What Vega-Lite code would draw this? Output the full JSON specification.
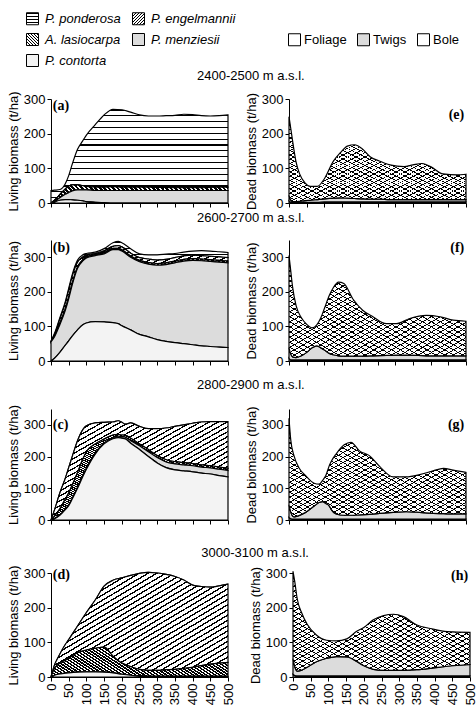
{
  "$schema": "https://vega.github.io/schema/vega-lite/v6.json",
  "padding": {"left": 7, "top": 12, "right": 6, "bottom": 4},
  "background": "white",
  "params": [
    {"name": "stripesH", "expr": "{gradient:'linear',x1:0,y1:0,x2:0,y2:1,stops:[{offset:0,color:'#000'},{offset:0.012,color:'#000'},{offset:0.012,color:'#fff'},{offset:0.0625,color:'#fff'},{offset:0.0625,color:'#000'},{offset:0.0745,color:'#000'},{offset:0.0745,color:'#fff'},{offset:0.125,color:'#fff'},{offset:0.125,color:'#000'},{offset:0.137,color:'#000'},{offset:0.137,color:'#fff'},{offset:0.1875,color:'#fff'},{offset:0.1875,color:'#000'},{offset:0.1995,color:'#000'},{offset:0.1995,color:'#fff'},{offset:0.25,color:'#fff'},{offset:0.25,color:'#000'},{offset:0.262,color:'#000'},{offset:0.262,color:'#fff'},{offset:0.3125,color:'#fff'},{offset:0.3125,color:'#000'},{offset:0.3245,color:'#000'},{offset:0.3245,color:'#fff'},{offset:0.375,color:'#fff'},{offset:0.375,color:'#000'},{offset:0.387,color:'#000'},{offset:0.387,color:'#fff'},{offset:0.4375,color:'#fff'},{offset:0.4375,color:'#000'},{offset:0.4495,color:'#000'},{offset:0.4495,color:'#fff'},{offset:0.5,color:'#fff'},{offset:0.5,color:'#000'},{offset:0.512,color:'#000'},{offset:0.512,color:'#fff'},{offset:0.5625,color:'#fff'},{offset:0.5625,color:'#000'},{offset:0.5745,color:'#000'},{offset:0.5745,color:'#fff'},{offset:0.625,color:'#fff'},{offset:0.625,color:'#000'},{offset:0.637,color:'#000'},{offset:0.637,color:'#fff'},{offset:0.6875,color:'#fff'},{offset:0.6875,color:'#000'},{offset:0.6995,color:'#000'},{offset:0.6995,color:'#fff'},{offset:0.75,color:'#fff'},{offset:0.75,color:'#000'},{offset:0.762,color:'#000'},{offset:0.762,color:'#fff'},{offset:0.8125,color:'#fff'},{offset:0.8125,color:'#000'},{offset:0.8245,color:'#000'},{offset:0.8245,color:'#fff'},{offset:0.875,color:'#fff'},{offset:0.875,color:'#000'},{offset:0.887,color:'#000'},{offset:0.887,color:'#fff'},{offset:0.9375,color:'#fff'},{offset:0.9375,color:'#000'},{offset:0.9495,color:'#000'},{offset:0.9495,color:'#fff'},{offset:1,color:'#fff'}]}"},
    {"name": "hatchUp", "expr": "{gradient:'linear',x1:0,y1:0,x2:1,y2:1,stops:[{offset:0,color:'#000'},{offset:0.0075,color:'#000'},{offset:0.0075,color:'#fff'},{offset:0.025,color:'#fff'},{offset:0.025,color:'#000'},{offset:0.0325,color:'#000'},{offset:0.0325,color:'#fff'},{offset:0.05,color:'#fff'},{offset:0.05,color:'#000'},{offset:0.0575,color:'#000'},{offset:0.0575,color:'#fff'},{offset:0.075,color:'#fff'},{offset:0.075,color:'#000'},{offset:0.0825,color:'#000'},{offset:0.0825,color:'#fff'},{offset:0.1,color:'#fff'},{offset:0.1,color:'#000'},{offset:0.1075,color:'#000'},{offset:0.1075,color:'#fff'},{offset:0.125,color:'#fff'},{offset:0.125,color:'#000'},{offset:0.1325,color:'#000'},{offset:0.1325,color:'#fff'},{offset:0.15,color:'#fff'},{offset:0.15,color:'#000'},{offset:0.1575,color:'#000'},{offset:0.1575,color:'#fff'},{offset:0.175,color:'#fff'},{offset:0.175,color:'#000'},{offset:0.1825,color:'#000'},{offset:0.1825,color:'#fff'},{offset:0.2,color:'#fff'},{offset:0.2,color:'#000'},{offset:0.2075,color:'#000'},{offset:0.2075,color:'#fff'},{offset:0.225,color:'#fff'},{offset:0.225,color:'#000'},{offset:0.2325,color:'#000'},{offset:0.2325,color:'#fff'},{offset:0.25,color:'#fff'},{offset:0.25,color:'#000'},{offset:0.2575,color:'#000'},{offset:0.2575,color:'#fff'},{offset:0.275,color:'#fff'},{offset:0.275,color:'#000'},{offset:0.2825,color:'#000'},{offset:0.2825,color:'#fff'},{offset:0.3,color:'#fff'},{offset:0.3,color:'#000'},{offset:0.3075,color:'#000'},{offset:0.3075,color:'#fff'},{offset:0.325,color:'#fff'},{offset:0.325,color:'#000'},{offset:0.3325,color:'#000'},{offset:0.3325,color:'#fff'},{offset:0.35,color:'#fff'},{offset:0.35,color:'#000'},{offset:0.3575,color:'#000'},{offset:0.3575,color:'#fff'},{offset:0.375,color:'#fff'},{offset:0.375,color:'#000'},{offset:0.3825,color:'#000'},{offset:0.3825,color:'#fff'},{offset:0.4,color:'#fff'},{offset:0.4,color:'#000'},{offset:0.4075,color:'#000'},{offset:0.4075,color:'#fff'},{offset:0.425,color:'#fff'},{offset:0.425,color:'#000'},{offset:0.4325,color:'#000'},{offset:0.4325,color:'#fff'},{offset:0.45,color:'#fff'},{offset:0.45,color:'#000'},{offset:0.4575,color:'#000'},{offset:0.4575,color:'#fff'},{offset:0.475,color:'#fff'},{offset:0.475,color:'#000'},{offset:0.4825,color:'#000'},{offset:0.4825,color:'#fff'},{offset:0.5,color:'#fff'},{offset:0.5,color:'#000'},{offset:0.5075,color:'#000'},{offset:0.5075,color:'#fff'},{offset:0.525,color:'#fff'},{offset:0.525,color:'#000'},{offset:0.5325,color:'#000'},{offset:0.5325,color:'#fff'},{offset:0.55,color:'#fff'},{offset:0.55,color:'#000'},{offset:0.5575,color:'#000'},{offset:0.5575,color:'#fff'},{offset:0.575,color:'#fff'},{offset:0.575,color:'#000'},{offset:0.5825,color:'#000'},{offset:0.5825,color:'#fff'},{offset:0.6,color:'#fff'},{offset:0.6,color:'#000'},{offset:0.6075,color:'#000'},{offset:0.6075,color:'#fff'},{offset:0.625,color:'#fff'},{offset:0.625,color:'#000'},{offset:0.6325,color:'#000'},{offset:0.6325,color:'#fff'},{offset:0.65,color:'#fff'},{offset:0.65,color:'#000'},{offset:0.6575,color:'#000'},{offset:0.6575,color:'#fff'},{offset:0.675,color:'#fff'},{offset:0.675,color:'#000'},{offset:0.6825,color:'#000'},{offset:0.6825,color:'#fff'},{offset:0.7,color:'#fff'},{offset:0.7,color:'#000'},{offset:0.7075,color:'#000'},{offset:0.7075,color:'#fff'},{offset:0.725,color:'#fff'},{offset:0.725,color:'#000'},{offset:0.7325,color:'#000'},{offset:0.7325,color:'#fff'},{offset:0.75,color:'#fff'},{offset:0.75,color:'#000'},{offset:0.7575,color:'#000'},{offset:0.7575,color:'#fff'},{offset:0.775,color:'#fff'},{offset:0.775,color:'#000'},{offset:0.7825,color:'#000'},{offset:0.7825,color:'#fff'},{offset:0.8,color:'#fff'},{offset:0.8,color:'#000'},{offset:0.8075,color:'#000'},{offset:0.8075,color:'#fff'},{offset:0.825,color:'#fff'},{offset:0.825,color:'#000'},{offset:0.8325,color:'#000'},{offset:0.8325,color:'#fff'},{offset:0.85,color:'#fff'},{offset:0.85,color:'#000'},{offset:0.8575,color:'#000'},{offset:0.8575,color:'#fff'},{offset:0.875,color:'#fff'},{offset:0.875,color:'#000'},{offset:0.8825,color:'#000'},{offset:0.8825,color:'#fff'},{offset:0.9,color:'#fff'},{offset:0.9,color:'#000'},{offset:0.9075,color:'#000'},{offset:0.9075,color:'#fff'},{offset:0.925,color:'#fff'},{offset:0.925,color:'#000'},{offset:0.9325,color:'#000'},{offset:0.9325,color:'#fff'},{offset:0.95,color:'#fff'},{offset:0.95,color:'#000'},{offset:0.9575,color:'#000'},{offset:0.9575,color:'#fff'},{offset:0.975,color:'#fff'},{offset:0.975,color:'#000'},{offset:0.9825,color:'#000'},{offset:0.9825,color:'#fff'},{offset:1,color:'#fff'}]}"},
    {"name": "hatchDown", "expr": "{gradient:'linear',x1:0,y1:1,x2:1,y2:0,stops:[{offset:0,color:'#000'},{offset:0.0075,color:'#000'},{offset:0.0075,color:'#fff'},{offset:0.0125,color:'#fff'},{offset:0.0125,color:'#000'},{offset:0.02,color:'#000'},{offset:0.02,color:'#fff'},{offset:0.025,color:'#fff'},{offset:0.025,color:'#000'},{offset:0.0325,color:'#000'},{offset:0.0325,color:'#fff'},{offset:0.0375,color:'#fff'},{offset:0.0375,color:'#000'},{offset:0.045,color:'#000'},{offset:0.045,color:'#fff'},{offset:0.05,color:'#fff'},{offset:0.05,color:'#000'},{offset:0.0575,color:'#000'},{offset:0.0575,color:'#fff'},{offset:0.0625,color:'#fff'},{offset:0.0625,color:'#000'},{offset:0.07,color:'#000'},{offset:0.07,color:'#fff'},{offset:0.075,color:'#fff'},{offset:0.075,color:'#000'},{offset:0.0825,color:'#000'},{offset:0.0825,color:'#fff'},{offset:0.0875,color:'#fff'},{offset:0.0875,color:'#000'},{offset:0.095,color:'#000'},{offset:0.095,color:'#fff'},{offset:0.1,color:'#fff'},{offset:0.1,color:'#000'},{offset:0.1075,color:'#000'},{offset:0.1075,color:'#fff'},{offset:0.1125,color:'#fff'},{offset:0.1125,color:'#000'},{offset:0.12,color:'#000'},{offset:0.12,color:'#fff'},{offset:0.125,color:'#fff'},{offset:0.125,color:'#000'},{offset:0.1325,color:'#000'},{offset:0.1325,color:'#fff'},{offset:0.1375,color:'#fff'},{offset:0.1375,color:'#000'},{offset:0.145,color:'#000'},{offset:0.145,color:'#fff'},{offset:0.15,color:'#fff'},{offset:0.15,color:'#000'},{offset:0.1575,color:'#000'},{offset:0.1575,color:'#fff'},{offset:0.1625,color:'#fff'},{offset:0.1625,color:'#000'},{offset:0.17,color:'#000'},{offset:0.17,color:'#fff'},{offset:0.175,color:'#fff'},{offset:0.175,color:'#000'},{offset:0.1825,color:'#000'},{offset:0.1825,color:'#fff'},{offset:0.1875,color:'#fff'},{offset:0.1875,color:'#000'},{offset:0.195,color:'#000'},{offset:0.195,color:'#fff'},{offset:0.2,color:'#fff'},{offset:0.2,color:'#000'},{offset:0.2075,color:'#000'},{offset:0.2075,color:'#fff'},{offset:0.2125,color:'#fff'},{offset:0.2125,color:'#000'},{offset:0.22,color:'#000'},{offset:0.22,color:'#fff'},{offset:0.225,color:'#fff'},{offset:0.225,color:'#000'},{offset:0.2325,color:'#000'},{offset:0.2325,color:'#fff'},{offset:0.2375,color:'#fff'},{offset:0.2375,color:'#000'},{offset:0.245,color:'#000'},{offset:0.245,color:'#fff'},{offset:0.25,color:'#fff'},{offset:0.25,color:'#000'},{offset:0.2575,color:'#000'},{offset:0.2575,color:'#fff'},{offset:0.2625,color:'#fff'},{offset:0.2625,color:'#000'},{offset:0.27,color:'#000'},{offset:0.27,color:'#fff'},{offset:0.275,color:'#fff'},{offset:0.275,color:'#000'},{offset:0.2825,color:'#000'},{offset:0.2825,color:'#fff'},{offset:0.2875,color:'#fff'},{offset:0.2875,color:'#000'},{offset:0.295,color:'#000'},{offset:0.295,color:'#fff'},{offset:0.3,color:'#fff'},{offset:0.3,color:'#000'},{offset:0.3075,color:'#000'},{offset:0.3075,color:'#fff'},{offset:0.3125,color:'#fff'},{offset:0.3125,color:'#000'},{offset:0.32,color:'#000'},{offset:0.32,color:'#fff'},{offset:0.325,color:'#fff'},{offset:0.325,color:'#000'},{offset:0.3325,color:'#000'},{offset:0.3325,color:'#fff'},{offset:0.3375,color:'#fff'},{offset:0.3375,color:'#000'},{offset:0.345,color:'#000'},{offset:0.345,color:'#fff'},{offset:0.35,color:'#fff'},{offset:0.35,color:'#000'},{offset:0.3575,color:'#000'},{offset:0.3575,color:'#fff'},{offset:0.3625,color:'#fff'},{offset:0.3625,color:'#000'},{offset:0.37,color:'#000'},{offset:0.37,color:'#fff'},{offset:0.375,color:'#fff'},{offset:0.375,color:'#000'},{offset:0.3825,color:'#000'},{offset:0.3825,color:'#fff'},{offset:0.3875,color:'#fff'},{offset:0.3875,color:'#000'},{offset:0.395,color:'#000'},{offset:0.395,color:'#fff'},{offset:0.4,color:'#fff'},{offset:0.4,color:'#000'},{offset:0.4075,color:'#000'},{offset:0.4075,color:'#fff'},{offset:0.4125,color:'#fff'},{offset:0.4125,color:'#000'},{offset:0.42,color:'#000'},{offset:0.42,color:'#fff'},{offset:0.425,color:'#fff'},{offset:0.425,color:'#000'},{offset:0.4325,color:'#000'},{offset:0.4325,color:'#fff'},{offset:0.4375,color:'#fff'},{offset:0.4375,color:'#000'},{offset:0.445,color:'#000'},{offset:0.445,color:'#fff'},{offset:0.45,color:'#fff'},{offset:0.45,color:'#000'},{offset:0.4575,color:'#000'},{offset:0.4575,color:'#fff'},{offset:0.4625,color:'#fff'},{offset:0.4625,color:'#000'},{offset:0.47,color:'#000'},{offset:0.47,color:'#fff'},{offset:0.475,color:'#fff'},{offset:0.475,color:'#000'},{offset:0.4825,color:'#000'},{offset:0.4825,color:'#fff'},{offset:0.4875,color:'#fff'},{offset:0.4875,color:'#000'},{offset:0.495,color:'#000'},{offset:0.495,color:'#fff'},{offset:0.5,color:'#fff'},{offset:0.5,color:'#000'},{offset:0.5075,color:'#000'},{offset:0.5075,color:'#fff'},{offset:0.5125,color:'#fff'},{offset:0.5125,color:'#000'},{offset:0.52,color:'#000'},{offset:0.52,color:'#fff'},{offset:0.525,color:'#fff'},{offset:0.525,color:'#000'},{offset:0.5325,color:'#000'},{offset:0.5325,color:'#fff'},{offset:0.5375,color:'#fff'},{offset:0.5375,color:'#000'},{offset:0.545,color:'#000'},{offset:0.545,color:'#fff'},{offset:0.55,color:'#fff'},{offset:0.55,color:'#000'},{offset:0.5575,color:'#000'},{offset:0.5575,color:'#fff'},{offset:0.5625,color:'#fff'},{offset:0.5625,color:'#000'},{offset:0.57,color:'#000'},{offset:0.57,color:'#fff'},{offset:0.575,color:'#fff'},{offset:0.575,color:'#000'},{offset:0.5825,color:'#000'},{offset:0.5825,color:'#fff'},{offset:0.5875,color:'#fff'},{offset:0.5875,color:'#000'},{offset:0.595,color:'#000'},{offset:0.595,color:'#fff'},{offset:0.6,color:'#fff'},{offset:0.6,color:'#000'},{offset:0.6075,color:'#000'},{offset:0.6075,color:'#fff'},{offset:0.6125,color:'#fff'},{offset:0.6125,color:'#000'},{offset:0.62,color:'#000'},{offset:0.62,color:'#fff'},{offset:0.625,color:'#fff'},{offset:0.625,color:'#000'},{offset:0.6325,color:'#000'},{offset:0.6325,color:'#fff'},{offset:0.6375,color:'#fff'},{offset:0.6375,color:'#000'},{offset:0.645,color:'#000'},{offset:0.645,color:'#fff'},{offset:0.65,color:'#fff'},{offset:0.65,color:'#000'},{offset:0.6575,color:'#000'},{offset:0.6575,color:'#fff'},{offset:0.6625,color:'#fff'},{offset:0.6625,color:'#000'},{offset:0.67,color:'#000'},{offset:0.67,color:'#fff'},{offset:0.675,color:'#fff'},{offset:0.675,color:'#000'},{offset:0.6825,color:'#000'},{offset:0.6825,color:'#fff'},{offset:0.6875,color:'#fff'},{offset:0.6875,color:'#000'},{offset:0.695,color:'#000'},{offset:0.695,color:'#fff'},{offset:0.7,color:'#fff'},{offset:0.7,color:'#000'},{offset:0.7075,color:'#000'},{offset:0.7075,color:'#fff'},{offset:0.7125,color:'#fff'},{offset:0.7125,color:'#000'},{offset:0.72,color:'#000'},{offset:0.72,color:'#fff'},{offset:0.725,color:'#fff'},{offset:0.725,color:'#000'},{offset:0.7325,color:'#000'},{offset:0.7325,color:'#fff'},{offset:0.7375,color:'#fff'},{offset:0.7375,color:'#000'},{offset:0.745,color:'#000'},{offset:0.745,color:'#fff'},{offset:0.75,color:'#fff'},{offset:0.75,color:'#000'},{offset:0.7575,color:'#000'},{offset:0.7575,color:'#fff'},{offset:0.7625,color:'#fff'},{offset:0.7625,color:'#000'},{offset:0.77,color:'#000'},{offset:0.77,color:'#fff'},{offset:0.775,color:'#fff'},{offset:0.775,color:'#000'},{offset:0.7825,color:'#000'},{offset:0.7825,color:'#fff'},{offset:0.7875,color:'#fff'},{offset:0.7875,color:'#000'},{offset:0.795,color:'#000'},{offset:0.795,color:'#fff'},{offset:0.8,color:'#fff'},{offset:0.8,color:'#000'},{offset:0.8075,color:'#000'},{offset:0.8075,color:'#fff'},{offset:0.8125,color:'#fff'},{offset:0.8125,color:'#000'},{offset:0.82,color:'#000'},{offset:0.82,color:'#fff'},{offset:0.825,color:'#fff'},{offset:0.825,color:'#000'},{offset:0.8325,color:'#000'},{offset:0.8325,color:'#fff'},{offset:0.8375,color:'#fff'},{offset:0.8375,color:'#000'},{offset:0.845,color:'#000'},{offset:0.845,color:'#fff'},{offset:0.85,color:'#fff'},{offset:0.85,color:'#000'},{offset:0.8575,color:'#000'},{offset:0.8575,color:'#fff'},{offset:0.8625,color:'#fff'},{offset:0.8625,color:'#000'},{offset:0.87,color:'#000'},{offset:0.87,color:'#fff'},{offset:0.875,color:'#fff'},{offset:0.875,color:'#000'},{offset:0.8825,color:'#000'},{offset:0.8825,color:'#fff'},{offset:0.8875,color:'#fff'},{offset:0.8875,color:'#000'},{offset:0.895,color:'#000'},{offset:0.895,color:'#fff'},{offset:0.9,color:'#fff'},{offset:0.9,color:'#000'},{offset:0.9075,color:'#000'},{offset:0.9075,color:'#fff'},{offset:0.9125,color:'#fff'},{offset:0.9125,color:'#000'},{offset:0.92,color:'#000'},{offset:0.92,color:'#fff'},{offset:0.925,color:'#fff'},{offset:0.925,color:'#000'},{offset:0.9325,color:'#000'},{offset:0.9325,color:'#fff'},{offset:0.9375,color:'#fff'},{offset:0.9375,color:'#000'},{offset:0.945,color:'#000'},{offset:0.945,color:'#fff'},{offset:0.95,color:'#fff'},{offset:0.95,color:'#000'},{offset:0.9575,color:'#000'},{offset:0.9575,color:'#fff'},{offset:0.9625,color:'#fff'},{offset:0.9625,color:'#000'},{offset:0.97,color:'#000'},{offset:0.97,color:'#fff'},{offset:0.975,color:'#fff'},{offset:0.975,color:'#000'},{offset:0.9825,color:'#000'},{offset:0.9825,color:'#fff'},{offset:0.9875,color:'#fff'},{offset:0.9875,color:'#000'},{offset:0.995,color:'#000'},{offset:0.995,color:'#fff'},{offset:1,color:'#fff'}]}"},
    {"name": "crossUp", "expr": "{gradient:'linear',x1:0,y1:0,x2:1,y2:1,stops:[{offset:0,color:'#000'},{offset:0.005,color:'#000'},{offset:0.005,color:'#fff'},{offset:0.025,color:'#fff'},{offset:0.025,color:'#000'},{offset:0.03,color:'#000'},{offset:0.03,color:'#fff'},{offset:0.05,color:'#fff'},{offset:0.05,color:'#000'},{offset:0.055,color:'#000'},{offset:0.055,color:'#fff'},{offset:0.075,color:'#fff'},{offset:0.075,color:'#000'},{offset:0.08,color:'#000'},{offset:0.08,color:'#fff'},{offset:0.1,color:'#fff'},{offset:0.1,color:'#000'},{offset:0.105,color:'#000'},{offset:0.105,color:'#fff'},{offset:0.125,color:'#fff'},{offset:0.125,color:'#000'},{offset:0.13,color:'#000'},{offset:0.13,color:'#fff'},{offset:0.15,color:'#fff'},{offset:0.15,color:'#000'},{offset:0.155,color:'#000'},{offset:0.155,color:'#fff'},{offset:0.175,color:'#fff'},{offset:0.175,color:'#000'},{offset:0.18,color:'#000'},{offset:0.18,color:'#fff'},{offset:0.2,color:'#fff'},{offset:0.2,color:'#000'},{offset:0.205,color:'#000'},{offset:0.205,color:'#fff'},{offset:0.225,color:'#fff'},{offset:0.225,color:'#000'},{offset:0.23,color:'#000'},{offset:0.23,color:'#fff'},{offset:0.25,color:'#fff'},{offset:0.25,color:'#000'},{offset:0.255,color:'#000'},{offset:0.255,color:'#fff'},{offset:0.275,color:'#fff'},{offset:0.275,color:'#000'},{offset:0.28,color:'#000'},{offset:0.28,color:'#fff'},{offset:0.3,color:'#fff'},{offset:0.3,color:'#000'},{offset:0.305,color:'#000'},{offset:0.305,color:'#fff'},{offset:0.325,color:'#fff'},{offset:0.325,color:'#000'},{offset:0.33,color:'#000'},{offset:0.33,color:'#fff'},{offset:0.35,color:'#fff'},{offset:0.35,color:'#000'},{offset:0.355,color:'#000'},{offset:0.355,color:'#fff'},{offset:0.375,color:'#fff'},{offset:0.375,color:'#000'},{offset:0.38,color:'#000'},{offset:0.38,color:'#fff'},{offset:0.4,color:'#fff'},{offset:0.4,color:'#000'},{offset:0.405,color:'#000'},{offset:0.405,color:'#fff'},{offset:0.425,color:'#fff'},{offset:0.425,color:'#000'},{offset:0.43,color:'#000'},{offset:0.43,color:'#fff'},{offset:0.45,color:'#fff'},{offset:0.45,color:'#000'},{offset:0.455,color:'#000'},{offset:0.455,color:'#fff'},{offset:0.475,color:'#fff'},{offset:0.475,color:'#000'},{offset:0.48,color:'#000'},{offset:0.48,color:'#fff'},{offset:0.5,color:'#fff'},{offset:0.5,color:'#000'},{offset:0.505,color:'#000'},{offset:0.505,color:'#fff'},{offset:0.525,color:'#fff'},{offset:0.525,color:'#000'},{offset:0.53,color:'#000'},{offset:0.53,color:'#fff'},{offset:0.55,color:'#fff'},{offset:0.55,color:'#000'},{offset:0.555,color:'#000'},{offset:0.555,color:'#fff'},{offset:0.575,color:'#fff'},{offset:0.575,color:'#000'},{offset:0.58,color:'#000'},{offset:0.58,color:'#fff'},{offset:0.6,color:'#fff'},{offset:0.6,color:'#000'},{offset:0.605,color:'#000'},{offset:0.605,color:'#fff'},{offset:0.625,color:'#fff'},{offset:0.625,color:'#000'},{offset:0.63,color:'#000'},{offset:0.63,color:'#fff'},{offset:0.65,color:'#fff'},{offset:0.65,color:'#000'},{offset:0.655,color:'#000'},{offset:0.655,color:'#fff'},{offset:0.675,color:'#fff'},{offset:0.675,color:'#000'},{offset:0.68,color:'#000'},{offset:0.68,color:'#fff'},{offset:0.7,color:'#fff'},{offset:0.7,color:'#000'},{offset:0.705,color:'#000'},{offset:0.705,color:'#fff'},{offset:0.725,color:'#fff'},{offset:0.725,color:'#000'},{offset:0.73,color:'#000'},{offset:0.73,color:'#fff'},{offset:0.75,color:'#fff'},{offset:0.75,color:'#000'},{offset:0.755,color:'#000'},{offset:0.755,color:'#fff'},{offset:0.775,color:'#fff'},{offset:0.775,color:'#000'},{offset:0.78,color:'#000'},{offset:0.78,color:'#fff'},{offset:0.8,color:'#fff'},{offset:0.8,color:'#000'},{offset:0.805,color:'#000'},{offset:0.805,color:'#fff'},{offset:0.825,color:'#fff'},{offset:0.825,color:'#000'},{offset:0.83,color:'#000'},{offset:0.83,color:'#fff'},{offset:0.85,color:'#fff'},{offset:0.85,color:'#000'},{offset:0.855,color:'#000'},{offset:0.855,color:'#fff'},{offset:0.875,color:'#fff'},{offset:0.875,color:'#000'},{offset:0.88,color:'#000'},{offset:0.88,color:'#fff'},{offset:0.9,color:'#fff'},{offset:0.9,color:'#000'},{offset:0.905,color:'#000'},{offset:0.905,color:'#fff'},{offset:0.925,color:'#fff'},{offset:0.925,color:'#000'},{offset:0.93,color:'#000'},{offset:0.93,color:'#fff'},{offset:0.95,color:'#fff'},{offset:0.95,color:'#000'},{offset:0.955,color:'#000'},{offset:0.955,color:'#fff'},{offset:0.975,color:'#fff'},{offset:0.975,color:'#000'},{offset:0.98,color:'#000'},{offset:0.98,color:'#fff'},{offset:1,color:'#fff'}]}"},
    {"name": "crossDown", "expr": "{gradient:'linear',x1:0,y1:1,x2:1,y2:0,stops:[{offset:0,color:'#000'},{offset:0.005,color:'#000'},{offset:0.005,color:'transparent'},{offset:0.025,color:'transparent'},{offset:0.025,color:'#000'},{offset:0.03,color:'#000'},{offset:0.03,color:'transparent'},{offset:0.05,color:'transparent'},{offset:0.05,color:'#000'},{offset:0.055,color:'#000'},{offset:0.055,color:'transparent'},{offset:0.075,color:'transparent'},{offset:0.075,color:'#000'},{offset:0.08,color:'#000'},{offset:0.08,color:'transparent'},{offset:0.1,color:'transparent'},{offset:0.1,color:'#000'},{offset:0.105,color:'#000'},{offset:0.105,color:'transparent'},{offset:0.125,color:'transparent'},{offset:0.125,color:'#000'},{offset:0.13,color:'#000'},{offset:0.13,color:'transparent'},{offset:0.15,color:'transparent'},{offset:0.15,color:'#000'},{offset:0.155,color:'#000'},{offset:0.155,color:'transparent'},{offset:0.175,color:'transparent'},{offset:0.175,color:'#000'},{offset:0.18,color:'#000'},{offset:0.18,color:'transparent'},{offset:0.2,color:'transparent'},{offset:0.2,color:'#000'},{offset:0.205,color:'#000'},{offset:0.205,color:'transparent'},{offset:0.225,color:'transparent'},{offset:0.225,color:'#000'},{offset:0.23,color:'#000'},{offset:0.23,color:'transparent'},{offset:0.25,color:'transparent'},{offset:0.25,color:'#000'},{offset:0.255,color:'#000'},{offset:0.255,color:'transparent'},{offset:0.275,color:'transparent'},{offset:0.275,color:'#000'},{offset:0.28,color:'#000'},{offset:0.28,color:'transparent'},{offset:0.3,color:'transparent'},{offset:0.3,color:'#000'},{offset:0.305,color:'#000'},{offset:0.305,color:'transparent'},{offset:0.325,color:'transparent'},{offset:0.325,color:'#000'},{offset:0.33,color:'#000'},{offset:0.33,color:'transparent'},{offset:0.35,color:'transparent'},{offset:0.35,color:'#000'},{offset:0.355,color:'#000'},{offset:0.355,color:'transparent'},{offset:0.375,color:'transparent'},{offset:0.375,color:'#000'},{offset:0.38,color:'#000'},{offset:0.38,color:'transparent'},{offset:0.4,color:'transparent'},{offset:0.4,color:'#000'},{offset:0.405,color:'#000'},{offset:0.405,color:'transparent'},{offset:0.425,color:'transparent'},{offset:0.425,color:'#000'},{offset:0.43,color:'#000'},{offset:0.43,color:'transparent'},{offset:0.45,color:'transparent'},{offset:0.45,color:'#000'},{offset:0.455,color:'#000'},{offset:0.455,color:'transparent'},{offset:0.475,color:'transparent'},{offset:0.475,color:'#000'},{offset:0.48,color:'#000'},{offset:0.48,color:'transparent'},{offset:0.5,color:'transparent'},{offset:0.5,color:'#000'},{offset:0.505,color:'#000'},{offset:0.505,color:'transparent'},{offset:0.525,color:'transparent'},{offset:0.525,color:'#000'},{offset:0.53,color:'#000'},{offset:0.53,color:'transparent'},{offset:0.55,color:'transparent'},{offset:0.55,color:'#000'},{offset:0.555,color:'#000'},{offset:0.555,color:'transparent'},{offset:0.575,color:'transparent'},{offset:0.575,color:'#000'},{offset:0.58,color:'#000'},{offset:0.58,color:'transparent'},{offset:0.6,color:'transparent'},{offset:0.6,color:'#000'},{offset:0.605,color:'#000'},{offset:0.605,color:'transparent'},{offset:0.625,color:'transparent'},{offset:0.625,color:'#000'},{offset:0.63,color:'#000'},{offset:0.63,color:'transparent'},{offset:0.65,color:'transparent'},{offset:0.65,color:'#000'},{offset:0.655,color:'#000'},{offset:0.655,color:'transparent'},{offset:0.675,color:'transparent'},{offset:0.675,color:'#000'},{offset:0.68,color:'#000'},{offset:0.68,color:'transparent'},{offset:0.7,color:'transparent'},{offset:0.7,color:'#000'},{offset:0.705,color:'#000'},{offset:0.705,color:'transparent'},{offset:0.725,color:'transparent'},{offset:0.725,color:'#000'},{offset:0.73,color:'#000'},{offset:0.73,color:'transparent'},{offset:0.75,color:'transparent'},{offset:0.75,color:'#000'},{offset:0.755,color:'#000'},{offset:0.755,color:'transparent'},{offset:0.775,color:'transparent'},{offset:0.775,color:'#000'},{offset:0.78,color:'#000'},{offset:0.78,color:'transparent'},{offset:0.8,color:'transparent'},{offset:0.8,color:'#000'},{offset:0.805,color:'#000'},{offset:0.805,color:'transparent'},{offset:0.825,color:'transparent'},{offset:0.825,color:'#000'},{offset:0.83,color:'#000'},{offset:0.83,color:'transparent'},{offset:0.85,color:'transparent'},{offset:0.85,color:'#000'},{offset:0.855,color:'#000'},{offset:0.855,color:'transparent'},{offset:0.875,color:'transparent'},{offset:0.875,color:'#000'},{offset:0.88,color:'#000'},{offset:0.88,color:'transparent'},{offset:0.9,color:'transparent'},{offset:0.9,color:'#000'},{offset:0.905,color:'#000'},{offset:0.905,color:'transparent'},{offset:0.925,color:'transparent'},{offset:0.925,color:'#000'},{offset:0.93,color:'#000'},{offset:0.93,color:'transparent'},{offset:0.95,color:'transparent'},{offset:0.95,color:'#000'},{offset:0.955,color:'#000'},{offset:0.955,color:'transparent'},{offset:0.975,color:'transparent'},{offset:0.975,color:'#000'},{offset:0.98,color:'#000'},{offset:0.98,color:'transparent'},{offset:1,color:'transparent'}]}"},
    {"name": "lgStripes", "expr": "{gradient:'linear',x1:0,y1:0,x2:0,y2:1,stops:[{offset:0,color:'#fff'},{offset:0.29,color:'#fff'},{offset:0.29,color:'#000'},{offset:0.375,color:'#000'},{offset:0.375,color:'#fff'},{offset:0.625,color:'#fff'},{offset:0.625,color:'#000'},{offset:0.71,color:'#000'},{offset:0.71,color:'#fff'},{offset:1,color:'#fff'}]}"},
    {"name": "lgUp", "expr": "{gradient:'linear',x1:0,y1:0,x2:1,y2:1,stops:[{offset:0,color:'#000'},{offset:0.0375,color:'#000'},{offset:0.0375,color:'#fff'},{offset:0.125,color:'#fff'},{offset:0.125,color:'#000'},{offset:0.1625,color:'#000'},{offset:0.1625,color:'#fff'},{offset:0.25,color:'#fff'},{offset:0.25,color:'#000'},{offset:0.2875,color:'#000'},{offset:0.2875,color:'#fff'},{offset:0.375,color:'#fff'},{offset:0.375,color:'#000'},{offset:0.4125,color:'#000'},{offset:0.4125,color:'#fff'},{offset:0.5,color:'#fff'},{offset:0.5,color:'#000'},{offset:0.5375,color:'#000'},{offset:0.5375,color:'#fff'},{offset:0.625,color:'#fff'},{offset:0.625,color:'#000'},{offset:0.6625,color:'#000'},{offset:0.6625,color:'#fff'},{offset:0.75,color:'#fff'},{offset:0.75,color:'#000'},{offset:0.7875,color:'#000'},{offset:0.7875,color:'#fff'},{offset:0.875,color:'#fff'},{offset:0.875,color:'#000'},{offset:0.9125,color:'#000'},{offset:0.9125,color:'#fff'},{offset:1,color:'#fff'}]}"},
    {"name": "lgDown", "expr": "{gradient:'linear',x1:0,y1:1,x2:1,y2:0,stops:[{offset:0,color:'#000'},{offset:0.075,color:'#000'},{offset:0.075,color:'#fff'},{offset:0.125,color:'#fff'},{offset:0.125,color:'#000'},{offset:0.2,color:'#000'},{offset:0.2,color:'#fff'},{offset:0.25,color:'#fff'},{offset:0.25,color:'#000'},{offset:0.325,color:'#000'},{offset:0.325,color:'#fff'},{offset:0.375,color:'#fff'},{offset:0.375,color:'#000'},{offset:0.45,color:'#000'},{offset:0.45,color:'#fff'},{offset:0.5,color:'#fff'},{offset:0.5,color:'#000'},{offset:0.575,color:'#000'},{offset:0.575,color:'#fff'},{offset:0.625,color:'#fff'},{offset:0.625,color:'#000'},{offset:0.7,color:'#000'},{offset:0.7,color:'#fff'},{offset:0.75,color:'#fff'},{offset:0.75,color:'#000'},{offset:0.825,color:'#000'},{offset:0.825,color:'#fff'},{offset:0.875,color:'#fff'},{offset:0.875,color:'#000'},{offset:0.95,color:'#000'},{offset:0.95,color:'#fff'},{offset:1,color:'#fff'}]}"},
    {"name": "lgCross", "expr": "{gradient:'linear',x1:0,y1:0,x2:1,y2:1,stops:[{offset:0,color:'#000'},{offset:0.06,color:'#000'},{offset:0.06,color:'#fff'},{offset:0.1667,color:'#fff'},{offset:0.1667,color:'#000'},{offset:0.2267,color:'#000'},{offset:0.2267,color:'#fff'},{offset:0.3333,color:'#fff'},{offset:0.3333,color:'#000'},{offset:0.3933,color:'#000'},{offset:0.3933,color:'#fff'},{offset:0.5,color:'#fff'},{offset:0.5,color:'#000'},{offset:0.56,color:'#000'},{offset:0.56,color:'#fff'},{offset:0.6667,color:'#fff'},{offset:0.6667,color:'#000'},{offset:0.7267,color:'#000'},{offset:0.7267,color:'#fff'},{offset:0.8333,color:'#fff'},{offset:0.8333,color:'#000'},{offset:0.8933,color:'#000'},{offset:0.8933,color:'#fff'},{offset:1,color:'#fff'}]}"}
  ],
  "datasets": {
    "taxa": [
      {"key": "contorta", "name": "P. contorta", "rank": 1},
      {"key": "menziesii", "name": "P. menziesii", "rank": 2},
      {"key": "lasiocarpa", "name": "A. lasiocarpa", "rank": 3},
      {"key": "engelmannii", "name": "P. engelmannii", "rank": 4},
      {"key": "ponderosa", "name": "P. ponderosa", "rank": 5}
    ],
    "pools": [
      {"key": "foliage", "name": "Foliage", "rank": 1},
      {"key": "twigs", "name": "Twigs", "rank": 2},
      {"key": "bole", "name": "Bole", "rank": 3}
    ],
    "living": [
      {"panel": "a", "year": 0, "ponderosa": 36, "engelmannii": 0, "lasiocarpa": 0, "menziesii": 0, "contorta": 0},
      {"panel": "a", "year": 10, "ponderosa": 29, "engelmannii": 0, "lasiocarpa": 3, "menziesii": 2, "contorta": 3},
      {"panel": "a", "year": 25, "ponderosa": 15, "engelmannii": 0, "lasiocarpa": 9, "menziesii": 7, "contorta": 8},
      {"panel": "a", "year": 40, "ponderosa": 15, "engelmannii": 0, "lasiocarpa": 15, "menziesii": 15, "contorta": 10},
      {"panel": "a", "year": 50, "ponderosa": 31, "engelmannii": 0, "lasiocarpa": 18, "menziesii": 20, "contorta": 10},
      {"panel": "a", "year": 60, "ponderosa": 60, "engelmannii": 0, "lasiocarpa": 17, "menziesii": 26, "contorta": 9},
      {"panel": "a", "year": 75, "ponderosa": 103, "engelmannii": 0, "lasiocarpa": 14, "menziesii": 30, "contorta": 8},
      {"panel": "a", "year": 90, "ponderosa": 130, "engelmannii": 0, "lasiocarpa": 12, "menziesii": 32, "contorta": 6},
      {"panel": "a", "year": 100, "ponderosa": 148, "engelmannii": 0, "lasiocarpa": 10, "menziesii": 34, "contorta": 4},
      {"panel": "a", "year": 125, "ponderosa": 180, "engelmannii": 0, "lasiocarpa": 10, "menziesii": 34, "contorta": 2},
      {"panel": "a", "year": 150, "ponderosa": 208, "engelmannii": 0, "lasiocarpa": 10, "menziesii": 35, "contorta": 1},
      {"panel": "a", "year": 175, "ponderosa": 223, "engelmannii": 0, "lasiocarpa": 11, "menziesii": 36, "contorta": 0},
      {"panel": "a", "year": 200, "ponderosa": 223, "engelmannii": 0, "lasiocarpa": 10, "menziesii": 36, "contorta": 0},
      {"panel": "a", "year": 225, "ponderosa": 216, "engelmannii": 0, "lasiocarpa": 10, "menziesii": 36, "contorta": 0},
      {"panel": "a", "year": 250, "ponderosa": 208, "engelmannii": 0, "lasiocarpa": 10, "menziesii": 36, "contorta": 0},
      {"panel": "a", "year": 275, "ponderosa": 205, "engelmannii": 0, "lasiocarpa": 10, "menziesii": 36, "contorta": 0},
      {"panel": "a", "year": 300, "ponderosa": 206, "engelmannii": 0, "lasiocarpa": 9, "menziesii": 36, "contorta": 0},
      {"panel": "a", "year": 325, "ponderosa": 207, "engelmannii": 0, "lasiocarpa": 9, "menziesii": 36, "contorta": 0},
      {"panel": "a", "year": 350, "ponderosa": 209, "engelmannii": 0, "lasiocarpa": 8, "menziesii": 36, "contorta": 0},
      {"panel": "a", "year": 375, "ponderosa": 212, "engelmannii": 0, "lasiocarpa": 8, "menziesii": 36, "contorta": 0},
      {"panel": "a", "year": 400, "ponderosa": 211, "engelmannii": 0, "lasiocarpa": 8, "menziesii": 36, "contorta": 0},
      {"panel": "a", "year": 425, "ponderosa": 208, "engelmannii": 0, "lasiocarpa": 8, "menziesii": 36, "contorta": 0},
      {"panel": "a", "year": 450, "ponderosa": 206, "engelmannii": 0, "lasiocarpa": 9, "menziesii": 36, "contorta": 0},
      {"panel": "a", "year": 475, "ponderosa": 206, "engelmannii": 0, "lasiocarpa": 10, "menziesii": 36, "contorta": 0},
      {"panel": "a", "year": 500, "ponderosa": 208, "engelmannii": 0, "lasiocarpa": 10, "menziesii": 36, "contorta": 0},

      {"panel": "b", "year": 0, "ponderosa": 1, "engelmannii": 2, "lasiocarpa": 0, "menziesii": 55, "contorta": 0},
      {"panel": "b", "year": 10, "ponderosa": 3, "engelmannii": 5, "lasiocarpa": 2, "menziesii": 62, "contorta": 8},
      {"panel": "b", "year": 25, "ponderosa": 4, "engelmannii": 12, "lasiocarpa": 4, "menziesii": 80, "contorta": 25},
      {"panel": "b", "year": 40, "ponderosa": 4, "engelmannii": 16, "lasiocarpa": 5, "menziesii": 100, "contorta": 45},
      {"panel": "b", "year": 50, "ponderosa": 5, "engelmannii": 20, "lasiocarpa": 5, "menziesii": 122, "contorta": 58},
      {"panel": "b", "year": 60, "ponderosa": 5, "engelmannii": 20, "lasiocarpa": 5, "menziesii": 148, "contorta": 72},
      {"panel": "b", "year": 75, "ponderosa": 6, "engelmannii": 14, "lasiocarpa": 4, "menziesii": 178, "contorta": 90},
      {"panel": "b", "year": 90, "ponderosa": 6, "engelmannii": 8, "lasiocarpa": 3, "menziesii": 185, "contorta": 105},
      {"panel": "b", "year": 100, "ponderosa": 4, "engelmannii": 6, "lasiocarpa": 3, "menziesii": 188, "contorta": 110},
      {"panel": "b", "year": 125, "ponderosa": 4, "engelmannii": 3, "lasiocarpa": 3, "menziesii": 191, "contorta": 114},
      {"panel": "b", "year": 150, "ponderosa": 6, "engelmannii": 5, "lasiocarpa": 4, "menziesii": 197, "contorta": 113},
      {"panel": "b", "year": 175, "ponderosa": 10, "engelmannii": 6, "lasiocarpa": 4, "menziesii": 211, "contorta": 111},
      {"panel": "b", "year": 190, "ponderosa": 12, "engelmannii": 8, "lasiocarpa": 4, "menziesii": 214, "contorta": 108},
      {"panel": "b", "year": 200, "ponderosa": 12, "engelmannii": 8, "lasiocarpa": 4, "menziesii": 216, "contorta": 102},
      {"panel": "b", "year": 225, "ponderosa": 13, "engelmannii": 8, "lasiocarpa": 4, "menziesii": 210, "contorta": 90},
      {"panel": "b", "year": 250, "ponderosa": 11, "engelmannii": 8, "lasiocarpa": 4, "menziesii": 210, "contorta": 77},
      {"panel": "b", "year": 275, "ponderosa": 12, "engelmannii": 10, "lasiocarpa": 5, "menziesii": 210, "contorta": 70},
      {"panel": "b", "year": 300, "ponderosa": 15, "engelmannii": 10, "lasiocarpa": 5, "menziesii": 215, "contorta": 62},
      {"panel": "b", "year": 325, "ponderosa": 15, "engelmannii": 10, "lasiocarpa": 5, "menziesii": 222, "contorta": 57},
      {"panel": "b", "year": 350, "ponderosa": 12, "engelmannii": 10, "lasiocarpa": 5, "menziesii": 231, "contorta": 53},
      {"panel": "b", "year": 375, "ponderosa": 11, "engelmannii": 10, "lasiocarpa": 5, "menziesii": 239, "contorta": 50},
      {"panel": "b", "year": 400, "ponderosa": 12, "engelmannii": 10, "lasiocarpa": 5, "menziesii": 244, "contorta": 47},
      {"panel": "b", "year": 425, "ponderosa": 14, "engelmannii": 10, "lasiocarpa": 5, "menziesii": 246, "contorta": 44},
      {"panel": "b", "year": 450, "ponderosa": 15, "engelmannii": 10, "lasiocarpa": 5, "menziesii": 246, "contorta": 42},
      {"panel": "b", "year": 475, "ponderosa": 15, "engelmannii": 10, "lasiocarpa": 5, "menziesii": 246, "contorta": 40},
      {"panel": "b", "year": 500, "ponderosa": 15, "engelmannii": 10, "lasiocarpa": 5, "menziesii": 245, "contorta": 39},

      {"panel": "c", "year": 0, "ponderosa": 0, "engelmannii": 0, "lasiocarpa": 0, "menziesii": 0, "contorta": 0},
      {"panel": "c", "year": 10, "ponderosa": 0, "engelmannii": 20, "lasiocarpa": 7, "menziesii": 1, "contorta": 4},
      {"panel": "c", "year": 25, "ponderosa": 0, "engelmannii": 50, "lasiocarpa": 19, "menziesii": 1, "contorta": 15},
      {"panel": "c", "year": 40, "ponderosa": 0, "engelmannii": 65, "lasiocarpa": 31, "menziesii": 2, "contorta": 32},
      {"panel": "c", "year": 50, "ponderosa": 0, "engelmannii": 80, "lasiocarpa": 38, "menziesii": 2, "contorta": 45},
      {"panel": "c", "year": 60, "ponderosa": 0, "engelmannii": 90, "lasiocarpa": 42, "menziesii": 2, "contorta": 66},
      {"panel": "c", "year": 75, "ponderosa": 0, "engelmannii": 100, "lasiocarpa": 47, "menziesii": 3, "contorta": 100},
      {"panel": "c", "year": 90, "ponderosa": 0, "engelmannii": 93, "lasiocarpa": 52, "menziesii": 3, "contorta": 137},
      {"panel": "c", "year": 100, "ponderosa": 0, "engelmannii": 82, "lasiocarpa": 52, "menziesii": 3, "contorta": 160},
      {"panel": "c", "year": 125, "ponderosa": 0, "engelmannii": 66, "lasiocarpa": 29, "menziesii": 3, "contorta": 208},
      {"panel": "c", "year": 150, "ponderosa": 0, "engelmannii": 53, "lasiocarpa": 12, "menziesii": 3, "contorta": 240},
      {"panel": "c", "year": 175, "ponderosa": 0, "engelmannii": 41, "lasiocarpa": 8, "menziesii": 4, "contorta": 256},
      {"panel": "c", "year": 190, "ponderosa": 0, "engelmannii": 43, "lasiocarpa": 6, "menziesii": 4, "contorta": 260},
      {"panel": "c", "year": 200, "ponderosa": 0, "engelmannii": 40, "lasiocarpa": 5, "menziesii": 5, "contorta": 258},
      {"panel": "c", "year": 210, "ponderosa": 0, "engelmannii": 35, "lasiocarpa": 6, "menziesii": 5, "contorta": 256},
      {"panel": "c", "year": 225, "ponderosa": 0, "engelmannii": 48, "lasiocarpa": 8, "menziesii": 8, "contorta": 242},
      {"panel": "c", "year": 250, "ponderosa": 0, "engelmannii": 55, "lasiocarpa": 6, "menziesii": 12, "contorta": 222},
      {"panel": "c", "year": 275, "ponderosa": 0, "engelmannii": 66, "lasiocarpa": 7, "menziesii": 15, "contorta": 200},
      {"panel": "c", "year": 300, "ponderosa": 0, "engelmannii": 85, "lasiocarpa": 6, "menziesii": 17, "contorta": 180},
      {"panel": "c", "year": 325, "ponderosa": 0, "engelmannii": 100, "lasiocarpa": 7, "menziesii": 18, "contorta": 165},
      {"panel": "c", "year": 350, "ponderosa": 0, "engelmannii": 111, "lasiocarpa": 7, "menziesii": 19, "contorta": 158},
      {"panel": "c", "year": 375, "ponderosa": 0, "engelmannii": 119, "lasiocarpa": 7, "menziesii": 19, "contorta": 155},
      {"panel": "c", "year": 400, "ponderosa": 0, "engelmannii": 127, "lasiocarpa": 7, "menziesii": 19, "contorta": 152},
      {"panel": "c", "year": 425, "ponderosa": 0, "engelmannii": 135, "lasiocarpa": 7, "menziesii": 19, "contorta": 148},
      {"panel": "c", "year": 450, "ponderosa": 0, "engelmannii": 139, "lasiocarpa": 7, "menziesii": 19, "contorta": 145},
      {"panel": "c", "year": 475, "ponderosa": 0, "engelmannii": 143, "lasiocarpa": 7, "menziesii": 20, "contorta": 140},
      {"panel": "c", "year": 500, "ponderosa": 0, "engelmannii": 147, "lasiocarpa": 7, "menziesii": 20, "contorta": 136},

      {"panel": "d", "year": 0, "ponderosa": 0, "engelmannii": 0, "lasiocarpa": 0, "menziesii": 0, "contorta": 0},
      {"panel": "d", "year": 10, "ponderosa": 0, "engelmannii": 10, "lasiocarpa": 20, "menziesii": 0, "contorta": 5},
      {"panel": "d", "year": 20, "ponderosa": 0, "engelmannii": 20, "lasiocarpa": 28, "menziesii": 0, "contorta": 8},
      {"panel": "d", "year": 40, "ponderosa": 0, "engelmannii": 45, "lasiocarpa": 37, "menziesii": 0, "contorta": 11},
      {"panel": "d", "year": 50, "ponderosa": 0, "engelmannii": 54, "lasiocarpa": 42, "menziesii": 0, "contorta": 12},
      {"panel": "d", "year": 75, "ponderosa": 0, "engelmannii": 77, "lasiocarpa": 56, "menziesii": 0, "contorta": 14},
      {"panel": "d", "year": 100, "ponderosa": 0, "engelmannii": 108, "lasiocarpa": 63, "menziesii": 0, "contorta": 15},
      {"panel": "d", "year": 125, "ponderosa": 0, "engelmannii": 139, "lasiocarpa": 68, "menziesii": 0, "contorta": 15},
      {"panel": "d", "year": 150, "ponderosa": 0, "engelmannii": 176, "lasiocarpa": 72, "menziesii": 0, "contorta": 14},
      {"panel": "d", "year": 175, "ponderosa": 0, "engelmannii": 219, "lasiocarpa": 48, "menziesii": 0, "contorta": 12},
      {"panel": "d", "year": 200, "ponderosa": 0, "engelmannii": 246, "lasiocarpa": 32, "menziesii": 0, "contorta": 8},
      {"panel": "d", "year": 225, "ponderosa": 0, "engelmannii": 263, "lasiocarpa": 25, "menziesii": 0, "contorta": 5},
      {"panel": "d", "year": 250, "ponderosa": 0, "engelmannii": 277, "lasiocarpa": 19, "menziesii": 0, "contorta": 3},
      {"panel": "d", "year": 275, "ponderosa": 0, "engelmannii": 283, "lasiocarpa": 17, "menziesii": 0, "contorta": 2},
      {"panel": "d", "year": 300, "ponderosa": 0, "engelmannii": 281, "lasiocarpa": 17, "menziesii": 0, "contorta": 2},
      {"panel": "d", "year": 325, "ponderosa": 0, "engelmannii": 275, "lasiocarpa": 19, "menziesii": 0, "contorta": 2},
      {"panel": "d", "year": 350, "ponderosa": 0, "engelmannii": 268, "lasiocarpa": 20, "menziesii": 0, "contorta": 2},
      {"panel": "d", "year": 375, "ponderosa": 0, "engelmannii": 255, "lasiocarpa": 23, "menziesii": 0, "contorta": 2},
      {"panel": "d", "year": 400, "ponderosa": 0, "engelmannii": 237, "lasiocarpa": 26, "menziesii": 0, "contorta": 2},
      {"panel": "d", "year": 425, "ponderosa": 0, "engelmannii": 228, "lasiocarpa": 31, "menziesii": 0, "contorta": 2},
      {"panel": "d", "year": 450, "ponderosa": 0, "engelmannii": 222, "lasiocarpa": 35, "menziesii": 0, "contorta": 2},
      {"panel": "d", "year": 475, "ponderosa": 0, "engelmannii": 223, "lasiocarpa": 38, "menziesii": 0, "contorta": 2},
      {"panel": "d", "year": 500, "ponderosa": 0, "engelmannii": 226, "lasiocarpa": 40, "menziesii": 0, "contorta": 2}
    ],
    "dead": [
      {"panel": "e", "year": 0, "foliage": 6, "twigs": 16, "bole": 227},
      {"panel": "e", "year": 5, "foliage": 2, "twigs": 6, "bole": 207},
      {"panel": "e", "year": 10, "foliage": 1, "twigs": 3, "bole": 176},
      {"panel": "e", "year": 20, "foliage": 1, "twigs": 3, "bole": 114},
      {"panel": "e", "year": 30, "foliage": 1, "twigs": 4, "bole": 79},
      {"panel": "e", "year": 45, "foliage": 2, "twigs": 5, "bole": 51},
      {"panel": "e", "year": 60, "foliage": 2, "twigs": 6, "bole": 40},
      {"panel": "e", "year": 80, "foliage": 2, "twigs": 8, "bole": 38},
      {"panel": "e", "year": 100, "foliage": 3, "twigs": 9, "bole": 58},
      {"panel": "e", "year": 125, "foliage": 3, "twigs": 11, "bole": 106},
      {"panel": "e", "year": 145, "foliage": 3, "twigs": 12, "bole": 130},
      {"panel": "e", "year": 165, "foliage": 3, "twigs": 11, "bole": 150},
      {"panel": "e", "year": 185, "foliage": 3, "twigs": 10, "bole": 155},
      {"panel": "e", "year": 205, "foliage": 3, "twigs": 9, "bole": 146},
      {"panel": "e", "year": 230, "foliage": 3, "twigs": 8, "bole": 122},
      {"panel": "e", "year": 255, "foliage": 3, "twigs": 8, "bole": 110},
      {"panel": "e", "year": 285, "foliage": 3, "twigs": 7, "bole": 100},
      {"panel": "e", "year": 325, "foliage": 3, "twigs": 7, "bole": 95},
      {"panel": "e", "year": 350, "foliage": 3, "twigs": 7, "bole": 100},
      {"panel": "e", "year": 375, "foliage": 3, "twigs": 7, "bole": 104},
      {"panel": "e", "year": 400, "foliage": 3, "twigs": 7, "bole": 95},
      {"panel": "e", "year": 435, "foliage": 3, "twigs": 7, "bole": 74},
      {"panel": "e", "year": 475, "foliage": 3, "twigs": 7, "bole": 71},
      {"panel": "e", "year": 500, "foliage": 3, "twigs": 7, "bole": 73},

      {"panel": "f", "year": 0, "foliage": 8, "twigs": 30, "bole": 267},
      {"panel": "f", "year": 5, "foliage": 3, "twigs": 17, "bole": 240},
      {"panel": "f", "year": 10, "foliage": 3, "twigs": 9, "bole": 203},
      {"panel": "f", "year": 20, "foliage": 3, "twigs": 7, "bole": 150},
      {"panel": "f", "year": 35, "foliage": 3, "twigs": 12, "bole": 110},
      {"panel": "f", "year": 50, "foliage": 3, "twigs": 22, "bole": 81},
      {"panel": "f", "year": 65, "foliage": 3, "twigs": 35, "bole": 58},
      {"panel": "f", "year": 78, "foliage": 3, "twigs": 41, "bole": 60},
      {"panel": "f", "year": 90, "foliage": 3, "twigs": 35, "bole": 87},
      {"panel": "f", "year": 100, "foliage": 3, "twigs": 29, "bole": 120},
      {"panel": "f", "year": 114, "foliage": 3, "twigs": 19, "bole": 168},
      {"panel": "f", "year": 125, "foliage": 3, "twigs": 15, "bole": 194},
      {"panel": "f", "year": 140, "foliage": 3, "twigs": 12, "bole": 213},
      {"panel": "f", "year": 155, "foliage": 3, "twigs": 11, "bole": 210},
      {"panel": "f", "year": 180, "foliage": 3, "twigs": 11, "bole": 166},
      {"panel": "f", "year": 208, "foliage": 3, "twigs": 11, "bole": 133},
      {"panel": "f", "year": 237, "foliage": 3, "twigs": 12, "bole": 113},
      {"panel": "f", "year": 275, "foliage": 3, "twigs": 13, "bole": 92},
      {"panel": "f", "year": 303, "foliage": 3, "twigs": 14, "bole": 91},
      {"panel": "f", "year": 341, "foliage": 3, "twigs": 14, "bole": 106},
      {"panel": "f", "year": 388, "foliage": 3, "twigs": 12, "bole": 117},
      {"panel": "f", "year": 426, "foliage": 3, "twigs": 12, "bole": 113},
      {"panel": "f", "year": 464, "foliage": 3, "twigs": 12, "bole": 103},
      {"panel": "f", "year": 500, "foliage": 3, "twigs": 12, "bole": 100},

      {"panel": "g", "year": 0, "foliage": 8, "twigs": 40, "bole": 273},
      {"panel": "g", "year": 5, "foliage": 4, "twigs": 21, "bole": 227},
      {"panel": "g", "year": 14, "foliage": 3, "twigs": 7, "bole": 193},
      {"panel": "g", "year": 28, "foliage": 3, "twigs": 11, "bole": 151},
      {"panel": "g", "year": 47, "foliage": 3, "twigs": 21, "bole": 116},
      {"panel": "g", "year": 71, "foliage": 3, "twigs": 41, "bole": 72},
      {"panel": "g", "year": 85, "foliage": 3, "twigs": 52, "bole": 58},
      {"panel": "g", "year": 95, "foliage": 3, "twigs": 55, "bole": 67},
      {"panel": "g", "year": 104, "foliage": 3, "twigs": 49, "bole": 88},
      {"panel": "g", "year": 114, "foliage": 3, "twigs": 41, "bole": 128},
      {"panel": "g", "year": 120, "foliage": 3, "twigs": 29, "bole": 154},
      {"panel": "g", "year": 133, "foliage": 3, "twigs": 16, "bole": 189},
      {"panel": "g", "year": 156, "foliage": 3, "twigs": 12, "bole": 222},
      {"panel": "g", "year": 175, "foliage": 3, "twigs": 12, "bole": 230},
      {"panel": "g", "year": 199, "foliage": 3, "twigs": 13, "bole": 202},
      {"panel": "g", "year": 227, "foliage": 3, "twigs": 15, "bole": 185},
      {"panel": "g", "year": 256, "foliage": 3, "twigs": 18, "bole": 148},
      {"panel": "g", "year": 294, "foliage": 3, "twigs": 21, "bole": 112},
      {"panel": "g", "year": 331, "foliage": 3, "twigs": 23, "bole": 110},
      {"panel": "g", "year": 369, "foliage": 3, "twigs": 21, "bole": 119},
      {"panel": "g", "year": 407, "foliage": 3, "twigs": 18, "bole": 134},
      {"panel": "g", "year": 436, "foliage": 3, "twigs": 17, "bole": 143},
      {"panel": "g", "year": 464, "foliage": 3, "twigs": 16, "bole": 138},
      {"panel": "g", "year": 500, "foliage": 3, "twigs": 16, "bole": 131},

      {"panel": "h", "year": 0, "foliage": 8, "twigs": 45, "bole": 252},
      {"panel": "h", "year": 5, "foliage": 4, "twigs": 26, "bole": 245},
      {"panel": "h", "year": 12, "foliage": 3, "twigs": 14, "bole": 208},
      {"panel": "h", "year": 25, "foliage": 3, "twigs": 17, "bole": 164},
      {"panel": "h", "year": 40, "foliage": 3, "twigs": 25, "bole": 124},
      {"panel": "h", "year": 66, "foliage": 3, "twigs": 41, "bole": 77},
      {"panel": "h", "year": 95, "foliage": 3, "twigs": 51, "bole": 52},
      {"panel": "h", "year": 123, "foliage": 3, "twigs": 56, "bole": 45},
      {"panel": "h", "year": 152, "foliage": 3, "twigs": 55, "bole": 52},
      {"panel": "h", "year": 180, "foliage": 3, "twigs": 42, "bole": 87},
      {"panel": "h", "year": 199, "foliage": 3, "twigs": 30, "bole": 109},
      {"panel": "h", "year": 227, "foliage": 3, "twigs": 19, "bole": 143},
      {"panel": "h", "year": 256, "foliage": 3, "twigs": 16, "bole": 158},
      {"panel": "h", "year": 284, "foliage": 3, "twigs": 16, "bole": 162},
      {"panel": "h", "year": 312, "foliage": 3, "twigs": 16, "bole": 155},
      {"panel": "h", "year": 350, "foliage": 3, "twigs": 18, "bole": 129},
      {"panel": "h", "year": 388, "foliage": 3, "twigs": 22, "bole": 115},
      {"panel": "h", "year": 436, "foliage": 3, "twigs": 28, "bole": 100},
      {"panel": "h", "year": 500, "foliage": 3, "twigs": 33, "bole": 93}
    ]
  },
  "config": {
    "view": {"stroke": null},
    "font": "Liberation Sans",
    "axis": {
      "domainColor": "black", "tickColor": "black", "labelColor": "black", "titleColor": "black",
      "labelFont": "Liberation Sans", "titleFont": "Liberation Sans",
      "labelFontSize": 13, "titleFontSize": 13, "titleFontWeight": "normal",
      "grid": false, "tickSize": 4, "labelPadding": 2
    },
    "axisY": {"titlePadding": 3},
    "title": {"font": "Liberation Sans", "fontSize": 13, "fontWeight": "normal", "color": "black", "anchor": "middle", "dx": 13},
    "legend": {
      "labelFont": "Liberation Sans", "labelFontSize": 13, "labelColor": "black",
      "symbolType": "square", "symbolSize": 144, "symbolStrokeColor": "black", "symbolStrokeWidth": 1, "symbolOpacity": 1
    }
  },
  "spacing": 0,
  "vconcat": [
    {
      "title": {"text": "2400-2500 m a.s.l.", "offset": 8},
      "spacing": 14,
      "hconcat": [
        {
          "width": 177, "height": 104,
          "layer": [
            {
              "data": {"name": "living"},
              "transform": [
                {"filter": "datum.panel === 'a'"},
                {"fold": ["ponderosa", "engelmannii", "lasiocarpa", "menziesii", "contorta"], "as": ["key", "biomass"]},
                {"lookup": "key", "from": {"data": {"name": "taxa"}, "key": "key", "fields": ["name", "rank"]}},
                {"stack": "biomass", "groupby": ["year"], "sort": [{"field": "rank", "order": "ascending"}], "as": ["lo", "hi"]}
              ],
              "mark": {"type": "area", "interpolate": "monotone", "stroke": "black", "strokeWidth": 1.2},
              "encoding": {
                "x": {"field": "year", "type": "quantitative", "scale": {"domain": [0, 500]}, "axis": {"values": [0, 50, 100, 150, 200, 250, 300, 350, 400, 450, 500], "labels": false, "title": null}},
                "y": {"field": "hi", "type": "quantitative", "scale": {"domain": [0, 300]}, "axis": {"values": [0, 100, 200, 300], "title": "Living biomass (t/ha)"}},
                "y2": {"field": "lo"},
                "fill": {"field": "name", "type": "nominal",
                  "scale": {"domain": ["P. ponderosa", "P. engelmannii", "A. lasiocarpa", "P. menziesii", "P. contorta"], "range": [{"expr": "stripesH"}, {"expr": "hatchUp"}, {"expr": "hatchDown"}, "#dcdcdc", "#f3f3f3"]},
                  "legend": {"title": null, "orient": "none", "legendX": -25, "legendY": -87, "columns": 2, "direction": "horizontal", "labelFontStyle": "italic", "rowPadding": 4, "columnPadding": 9, "labelOffset": 6,
                    "encode": {"symbols": {"update": {"stroke": {"value": "black"}, "strokeWidth": {"value": 1}, "fill": {"signal": "datum.value === 'P. ponderosa' ? lgStripes : datum.value === 'P. engelmannii' ? lgUp : datum.value === 'A. lasiocarpa' ? lgDown : datum.value === 'P. menziesii' ? '#dcdcdc' : '#f3f3f3'"}}}}}}
              }
            },
            {
              "data": {"values": [{"label": "(a)"}]},
              "mark": {"type": "text", "font": "Liberation Serif", "fontWeight": "bold", "fontSize": 14, "align": "left", "baseline": "middle"},
              "encoding": {
                "x": {"datum": 5, "type": "quantitative", "axis": {"values": [0, 50, 100, 150, 200, 250, 300, 350, 400, 450, 500], "labels": false, "title": null}},
                "y": {"datum": 281, "type": "quantitative", "axis": {"values": [0, 100, 200, 300], "title": "Living biomass (t/ha)"}},
                "text": {"field": "label"}}
            }
          ]
        },
        {
          "width": 177, "height": 104,
          "layer": [
            {
              "data": {"name": "dead"},
              "transform": [
                {"filter": "datum.panel === 'e'"},
                {"fold": ["foliage", "twigs", "bole"], "as": ["key", "biomass"]},
                {"lookup": "key", "from": {"data": {"name": "pools"}, "key": "key", "fields": ["name", "rank"]}},
                {"stack": "biomass", "groupby": ["year"], "sort": [{"field": "rank", "order": "ascending"}], "as": ["lo", "hi"]}
              ],
              "mark": {"type": "area", "interpolate": "monotone", "stroke": "black", "strokeWidth": 1.2},
              "encoding": {
                "x": {"field": "year", "type": "quantitative", "scale": {"domain": [0, 500]}, "axis": {"values": [0, 50, 100, 150, 200, 250, 300, 350, 400, 450, 500], "labels": false, "title": null}},
                "y": {"field": "hi", "type": "quantitative", "scale": {"domain": [0, 300]}, "axis": {"values": [0, 100, 200, 300], "title": "Dead biomass (t/ha)"}},
                "y2": {"field": "lo"},
                "color": {"field": "name", "type": "nominal",
                  "scale": {"domain": ["Foliage", "Twigs", "Bole"], "range": ["#ffffff", "#dcdcdc", {"expr": "crossUp"}]},
                  "legend": {"title": null, "orient": "none", "legendX": 237, "legendY": -66, "direction": "horizontal", "columnPadding": 8, "labelOffset": 3,
                    "encode": {"symbols": {"update": {"stroke": {"value": "black"}, "strokeWidth": {"value": 1}, "fill": {"signal": "datum.value === 'Bole' ? lgCross : datum.value === 'Twigs' ? '#dcdcdc' : '#ffffff'"}}}}}}
              }
            },
            {
              "data": {"name": "dead"},
              "transform": [
                {"filter": "datum.panel === 'e'"},
                {"fold": ["foliage", "twigs", "bole"], "as": ["key", "biomass"]},
                {"lookup": "key", "from": {"data": {"name": "pools"}, "key": "key", "fields": ["name", "rank"]}},
                {"stack": "biomass", "groupby": ["year"], "sort": [{"field": "rank", "order": "ascending"}], "as": ["lo", "hi"]},
                {"filter": "datum.key === 'bole'"}
              ],
              "mark": {"type": "area", "interpolate": "monotone", "fill": {"expr": "crossDown"}, "strokeWidth": 0},
              "encoding": {
                "x": {"field": "year", "type": "quantitative", "axis": {"values": [0, 50, 100, 150, 200, 250, 300, 350, 400, 450, 500], "labels": false, "title": null}},
                "y": {"field": "hi", "type": "quantitative", "axis": {"values": [0, 100, 200, 300], "title": "Dead biomass (t/ha)"}},
                "y2": {"field": "lo"}
              }
            },
            {
              "data": {"values": [{"label": "(e)"}]},
              "mark": {"type": "text", "font": "Liberation Serif", "fontWeight": "bold", "fontSize": 14, "align": "right", "baseline": "middle"},
              "encoding": {
                "x": {"datum": 495, "type": "quantitative", "axis": {"values": [0, 50, 100, 150, 200, 250, 300, 350, 400, 450, 500], "labels": false, "title": null}},
                "y": {"datum": 253, "type": "quantitative", "axis": {"values": [0, 100, 200, 300], "title": "Dead biomass (t/ha)"}},
                "text": {"field": "label"}}
            }
          ]
        }
      ]
    },
    {
      "title": {"text": "2600-2700 m a.s.l.", "offset": 14},
      "spacing": 14,
      "hconcat": [
        {
          "width": 177, "height": 121,
          "layer": [
            {
              "data": {"name": "living"},
              "transform": [
                {"filter": "datum.panel === 'b'"},
                {"fold": ["ponderosa", "engelmannii", "lasiocarpa", "menziesii", "contorta"], "as": ["key", "biomass"]},
                {"lookup": "key", "from": {"data": {"name": "taxa"}, "key": "key", "fields": ["name", "rank"]}},
                {"stack": "biomass", "groupby": ["year"], "sort": [{"field": "rank", "order": "ascending"}], "as": ["lo", "hi"]}
              ],
              "mark": {"type": "area", "interpolate": "monotone", "stroke": "black", "strokeWidth": 1.2},
              "encoding": {
                "x": {"field": "year", "type": "quantitative", "scale": {"domain": [0, 500]}, "axis": {"values": [0, 50, 100, 150, 200, 250, 300, 350, 400, 450, 500], "labels": false, "title": null}},
                "y": {"field": "hi", "type": "quantitative", "scale": {"domain": [0, 350]}, "axis": {"values": [0, 100, 200, 300], "title": "Living biomass (t/ha)"}},
                "y2": {"field": "lo"},
                "fill": {"field": "name", "type": "nominal"}
              }
            },
            {
              "data": {"values": [{"label": "(b)"}]},
              "mark": {"type": "text", "font": "Liberation Serif", "fontWeight": "bold", "fontSize": 14, "align": "left", "baseline": "middle"},
              "encoding": {
                "x": {"datum": 5, "type": "quantitative", "axis": {"values": [0, 50, 100, 150, 200, 250, 300, 350, 400, 450, 500], "labels": false, "title": null}},
                "y": {"datum": 327, "type": "quantitative", "axis": {"values": [0, 100, 200, 300], "title": "Living biomass (t/ha)"}},
                "text": {"field": "label"}}
            }
          ]
        },
        {
          "width": 177, "height": 121,
          "layer": [
            {
              "data": {"name": "dead"},
              "transform": [
                {"filter": "datum.panel === 'f'"},
                {"fold": ["foliage", "twigs", "bole"], "as": ["key", "biomass"]},
                {"lookup": "key", "from": {"data": {"name": "pools"}, "key": "key", "fields": ["name", "rank"]}},
                {"stack": "biomass", "groupby": ["year"], "sort": [{"field": "rank", "order": "ascending"}], "as": ["lo", "hi"]}
              ],
              "mark": {"type": "area", "interpolate": "monotone", "stroke": "black", "strokeWidth": 1.2},
              "encoding": {
                "x": {"field": "year", "type": "quantitative", "scale": {"domain": [0, 500]}, "axis": {"values": [0, 50, 100, 150, 200, 250, 300, 350, 400, 450, 500], "labels": false, "title": null}},
                "y": {"field": "hi", "type": "quantitative", "scale": {"domain": [0, 350]}, "axis": {"values": [0, 100, 200, 300], "title": "Dead biomass (t/ha)"}},
                "y2": {"field": "lo"},
                "color": {"field": "name", "type": "nominal"}
              }
            },
            {
              "data": {"name": "dead"},
              "transform": [
                {"filter": "datum.panel === 'f'"},
                {"fold": ["foliage", "twigs", "bole"], "as": ["key", "biomass"]},
                {"lookup": "key", "from": {"data": {"name": "pools"}, "key": "key", "fields": ["name", "rank"]}},
                {"stack": "biomass", "groupby": ["year"], "sort": [{"field": "rank", "order": "ascending"}], "as": ["lo", "hi"]},
                {"filter": "datum.key === 'bole'"}
              ],
              "mark": {"type": "area", "interpolate": "monotone", "fill": {"expr": "crossDown"}, "strokeWidth": 0},
              "encoding": {
                "x": {"field": "year", "type": "quantitative", "axis": {"values": [0, 50, 100, 150, 200, 250, 300, 350, 400, 450, 500], "labels": false, "title": null}},
                "y": {"field": "hi", "type": "quantitative", "axis": {"values": [0, 100, 200, 300], "title": "Dead biomass (t/ha)"}},
                "y2": {"field": "lo"}
              }
            },
            {
              "data": {"values": [{"label": "(f)"}]},
              "mark": {"type": "text", "font": "Liberation Serif", "fontWeight": "bold", "fontSize": 14, "align": "right", "baseline": "middle"},
              "encoding": {
                "x": {"datum": 495, "type": "quantitative", "axis": {"values": [0, 50, 100, 150, 200, 250, 300, 350, 400, 450, 500], "labels": false, "title": null}},
                "y": {"datum": 327, "type": "quantitative", "axis": {"values": [0, 100, 200, 300], "title": "Dead biomass (t/ha)"}},
                "text": {"field": "label"}}
            }
          ]
        }
      ]
    },
    {
      "title": {"text": ["", "2800-2900 m a.s.l."], "offset": 13, "lineHeight": 10},
      "spacing": 14,
      "hconcat": [
        {
          "width": 177, "height": 111,
          "layer": [
            {
              "data": {"name": "living"},
              "transform": [
                {"filter": "datum.panel === 'c'"},
                {"fold": ["ponderosa", "engelmannii", "lasiocarpa", "menziesii", "contorta"], "as": ["key", "biomass"]},
                {"lookup": "key", "from": {"data": {"name": "taxa"}, "key": "key", "fields": ["name", "rank"]}},
                {"stack": "biomass", "groupby": ["year"], "sort": [{"field": "rank", "order": "ascending"}], "as": ["lo", "hi"]}
              ],
              "mark": {"type": "area", "interpolate": "monotone", "stroke": "black", "strokeWidth": 1.2},
              "encoding": {
                "x": {"field": "year", "type": "quantitative", "scale": {"domain": [0, 500]}, "axis": {"values": [0, 50, 100, 150, 200, 250, 300, 350, 400, 450, 500], "labels": false, "title": null}},
                "y": {"field": "hi", "type": "quantitative", "scale": {"domain": [0, 320]}, "axis": {"values": [0, 100, 200, 300], "title": "Living biomass (t/ha)"}},
                "y2": {"field": "lo"},
                "fill": {"field": "name", "type": "nominal"}
              }
            },
            {
              "data": {"values": [{"label": "(c)"}]},
              "mark": {"type": "text", "font": "Liberation Serif", "fontWeight": "bold", "fontSize": 14, "align": "left", "baseline": "middle"},
              "encoding": {
                "x": {"datum": 5, "type": "quantitative", "axis": {"values": [0, 50, 100, 150, 200, 250, 300, 350, 400, 450, 500], "labels": false, "title": null}},
                "y": {"datum": 300, "type": "quantitative", "axis": {"values": [0, 100, 200, 300], "title": "Living biomass (t/ha)"}},
                "text": {"field": "label"}}
            }
          ]
        },
        {
          "width": 177, "height": 111,
          "layer": [
            {
              "data": {"name": "dead"},
              "transform": [
                {"filter": "datum.panel === 'g'"},
                {"fold": ["foliage", "twigs", "bole"], "as": ["key", "biomass"]},
                {"lookup": "key", "from": {"data": {"name": "pools"}, "key": "key", "fields": ["name", "rank"]}},
                {"stack": "biomass", "groupby": ["year"], "sort": [{"field": "rank", "order": "ascending"}], "as": ["lo", "hi"]}
              ],
              "mark": {"type": "area", "interpolate": "monotone", "stroke": "black", "strokeWidth": 1.2},
              "encoding": {
                "x": {"field": "year", "type": "quantitative", "scale": {"domain": [0, 500]}, "axis": {"values": [0, 50, 100, 150, 200, 250, 300, 350, 400, 450, 500], "labels": false, "title": null}},
                "y": {"field": "hi", "type": "quantitative", "scale": {"domain": [0, 320]}, "axis": {"values": [0, 100, 200, 300], "title": "Dead biomass (t/ha)"}},
                "y2": {"field": "lo"},
                "color": {"field": "name", "type": "nominal"}
              }
            },
            {
              "data": {"name": "dead"},
              "transform": [
                {"filter": "datum.panel === 'g'"},
                {"fold": ["foliage", "twigs", "bole"], "as": ["key", "biomass"]},
                {"lookup": "key", "from": {"data": {"name": "pools"}, "key": "key", "fields": ["name", "rank"]}},
                {"stack": "biomass", "groupby": ["year"], "sort": [{"field": "rank", "order": "ascending"}], "as": ["lo", "hi"]},
                {"filter": "datum.key === 'bole'"}
              ],
              "mark": {"type": "area", "interpolate": "monotone", "fill": {"expr": "crossDown"}, "strokeWidth": 0},
              "encoding": {
                "x": {"field": "year", "type": "quantitative", "axis": {"values": [0, 50, 100, 150, 200, 250, 300, 350, 400, 450, 500], "labels": false, "title": null}},
                "y": {"field": "hi", "type": "quantitative", "axis": {"values": [0, 100, 200, 300], "title": "Dead biomass (t/ha)"}},
                "y2": {"field": "lo"}
              }
            },
            {
              "data": {"values": [{"label": "(g)"}]},
              "mark": {"type": "text", "font": "Liberation Serif", "fontWeight": "bold", "fontSize": 14, "align": "right", "baseline": "middle"},
              "encoding": {
                "x": {"datum": 495, "type": "quantitative", "axis": {"values": [0, 50, 100, 150, 200, 250, 300, 350, 400, 450, 500], "labels": false, "title": null}},
                "y": {"datum": 298, "type": "quantitative", "axis": {"values": [0, 100, 200, 300], "title": "Dead biomass (t/ha)"}},
                "text": {"field": "label"}}
            }
          ]
        }
      ]
    },
    {
      "title": {"text": ["", "3000-3100 m a.s.l."], "offset": 5, "lineHeight": 20},
      "spacing": 14,
      "hconcat": [
        {
          "width": 177, "height": 104,
          "layer": [
            {
              "data": {"name": "living"},
              "transform": [
                {"filter": "datum.panel === 'd'"},
                {"fold": ["ponderosa", "engelmannii", "lasiocarpa", "menziesii", "contorta"], "as": ["key", "biomass"]},
                {"lookup": "key", "from": {"data": {"name": "taxa"}, "key": "key", "fields": ["name", "rank"]}},
                {"stack": "biomass", "groupby": ["year"], "sort": [{"field": "rank", "order": "ascending"}], "as": ["lo", "hi"]}
              ],
              "mark": {"type": "area", "interpolate": "monotone", "stroke": "black", "strokeWidth": 1.2},
              "encoding": {
                "x": {"field": "year", "type": "quantitative", "scale": {"domain": [0, 500]}, "axis": {"values": [0, 50, 100, 150, 200, 250, 300, 350, 400, 450, 500], "labelAngle": -90, "labelFontSize": 13, "title": null}},
                "y": {"field": "hi", "type": "quantitative", "scale": {"domain": [0, 300]}, "axis": {"values": [0, 100, 200, 300], "title": "Living biomass (t/ha)"}},
                "y2": {"field": "lo"},
                "fill": {"field": "name", "type": "nominal"}
              }
            },
            {
              "data": {"values": [{"label": "(d)"}]},
              "mark": {"type": "text", "font": "Liberation Serif", "fontWeight": "bold", "fontSize": 14, "align": "left", "baseline": "middle"},
              "encoding": {
                "x": {"datum": 5, "type": "quantitative", "axis": {"values": [0, 50, 100, 150, 200, 250, 300, 350, 400, 450, 500], "labelAngle": -90, "labelFontSize": 13, "title": null}},
                "y": {"datum": 293, "type": "quantitative", "axis": {"values": [0, 100, 200, 300], "title": "Living biomass (t/ha)"}},
                "text": {"field": "label"}}
            }
          ]
        },
        {
          "width": 177, "height": 104,
          "layer": [
            {
              "data": {"name": "dead"},
              "transform": [
                {"filter": "datum.panel === 'h'"},
                {"fold": ["foliage", "twigs", "bole"], "as": ["key", "biomass"]},
                {"lookup": "key", "from": {"data": {"name": "pools"}, "key": "key", "fields": ["name", "rank"]}},
                {"stack": "biomass", "groupby": ["year"], "sort": [{"field": "rank", "order": "ascending"}], "as": ["lo", "hi"]}
              ],
              "mark": {"type": "area", "interpolate": "monotone", "stroke": "black", "strokeWidth": 1.2},
              "encoding": {
                "x": {"field": "year", "type": "quantitative", "scale": {"domain": [0, 500]}, "axis": {"values": [0, 50, 100, 150, 200, 250, 300, 350, 400, 450, 500], "labelAngle": -90, "labelFontSize": 13, "title": null}},
                "y": {"field": "hi", "type": "quantitative", "scale": {"domain": [0, 300]}, "axis": {"values": [0, 100, 200, 300], "title": "Dead biomass (t/ha)"}},
                "y2": {"field": "lo"},
                "color": {"field": "name", "type": "nominal"}
              }
            },
            {
              "data": {"name": "dead"},
              "transform": [
                {"filter": "datum.panel === 'h'"},
                {"fold": ["foliage", "twigs", "bole"], "as": ["key", "biomass"]},
                {"lookup": "key", "from": {"data": {"name": "pools"}, "key": "key", "fields": ["name", "rank"]}},
                {"stack": "biomass", "groupby": ["year"], "sort": [{"field": "rank", "order": "ascending"}], "as": ["lo", "hi"]},
                {"filter": "datum.key === 'bole'"}
              ],
              "mark": {"type": "area", "interpolate": "monotone", "fill": {"expr": "crossDown"}, "strokeWidth": 0},
              "encoding": {
                "x": {"field": "year", "type": "quantitative", "axis": {"values": [0, 50, 100, 150, 200, 250, 300, 350, 400, 450, 500], "labelAngle": -90, "labelFontSize": 13, "title": null}},
                "y": {"field": "hi", "type": "quantitative", "axis": {"values": [0, 100, 200, 300], "title": "Dead biomass (t/ha)"}},
                "y2": {"field": "lo"}
              }
            },
            {
              "data": {"values": [{"label": "(h)"}]},
              "mark": {"type": "text", "font": "Liberation Serif", "fontWeight": "bold", "fontSize": 14, "align": "right", "baseline": "middle"},
              "encoding": {
                "x": {"datum": 495, "type": "quantitative", "axis": {"values": [0, 50, 100, 150, 200, 250, 300, 350, 400, 450, 500], "labelAngle": -90, "labelFontSize": 13, "title": null}},
                "y": {"datum": 290, "type": "quantitative", "axis": {"values": [0, 100, 200, 300], "title": "Dead biomass (t/ha)"}},
                "text": {"field": "label"}}
            }
          ]
        }
      ]
    }
  ]
}
